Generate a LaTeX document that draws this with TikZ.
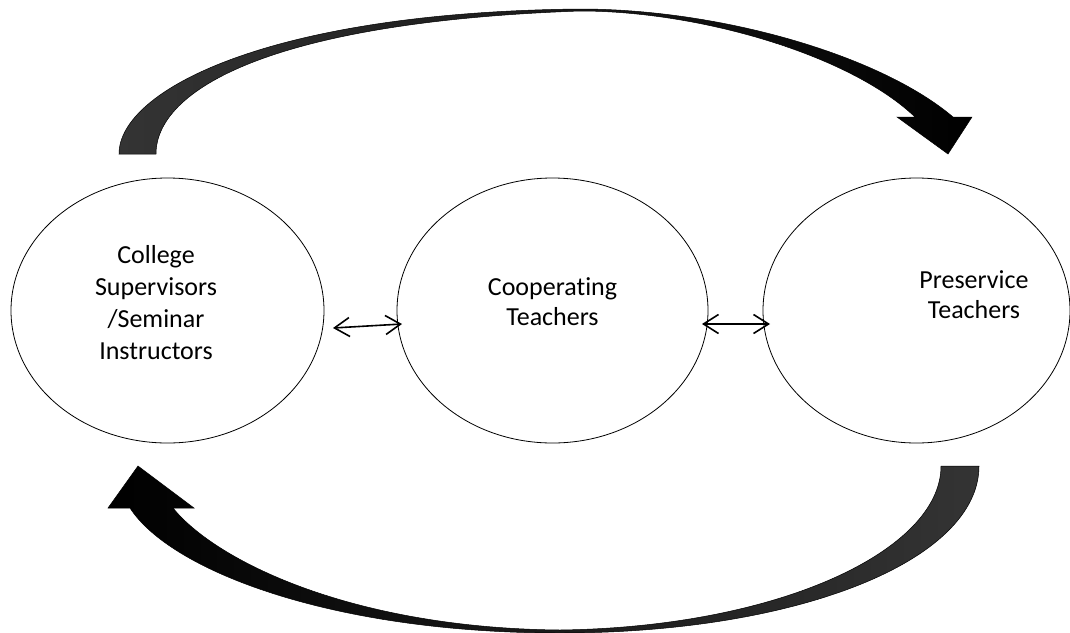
\documentclass[tikz,border=0pt]{standalone}
\usepackage{fontspec}
\setmainfont{Carlito}[Ligatures=NoCommon]
\usetikzlibrary{arrows.meta,shapes.geometric}
\definecolor{arcgray}{RGB}{52,52,52}
\begin{document}
\begin{tikzpicture}[x=1pt,y=-1pt,
  bubble/.style={ellipse, draw=black, line width=0.8pt, inner sep=0pt},
  lbl/.style={font=\fontsize{26}{#1}\selectfont, align=center, inner sep=0pt},
  dbl/.style={line width=1.6pt, {Straight Barb[length=15pt,width=19pt]}-{Straight Barb[length=15pt,width=19pt]}},
  bigarrow/.style={draw=black, line width=0.5pt}
]
\useasboundingbox (0,0) rectangle (1070,632);

% ellipses
\node[bubble, minimum width=313pt, minimum height=265pt] (csup) at (167.5,310.5) {};
\node[bubble, minimum width=311pt, minimum height=265pt] (coop) at (552.5,310.5) {};
\node[bubble, minimum width=307pt, minimum height=265pt] (pre) at (916.5,310.5) {};

% labels
\node[lbl=32] (tcsup) at (156,303) {College\\Supervisors\\/Seminar\\Instructors};
\node[lbl=30] (tcoop) at (552.5,302) {Cooperating\\Teachers};
\node[lbl=30] (tpre) at (974,295) {Preservice\\Teachers};

% double arrows
\coordinate (a1) at (333,328);
\coordinate (a2) at (402,324);
\coordinate (b1) at (702,324);
\coordinate (b2) at (770,324);
\draw[dbl] (a1) -- (a2);
\draw[dbl] (b1) -- (b2);

% top curved arrow
\path[bigarrow, left color=arcgray, right color=black]
  (119,154) .. controls (119,90) and (270,12) .. (580,9)
  .. controls (720,9) and (880,55) .. (953,117)
  -- (972,117) -- (948,154) -- (897,117) -- (915,117)
  .. controls (850,55) and (700,11) .. (580,11)
  .. controls (270,22) and (156,90) .. (156,154) -- cycle;

% bottom curved arrow
\path[bigarrow, left color=black, right color=arcgray]
  (979,466) .. controls (979,560) and (800,633) .. (560,633)
  .. controls (330,633) and (170,570) .. (130,508)
  -- (108,508) -- (138,466) -- (194,508) -- (173,508)
  .. controls (215,560) and (350,628) .. (560,630)
  .. controls (780,627) and (941,550) .. (941,466) -- cycle;
\end{tikzpicture}
\end{document}
